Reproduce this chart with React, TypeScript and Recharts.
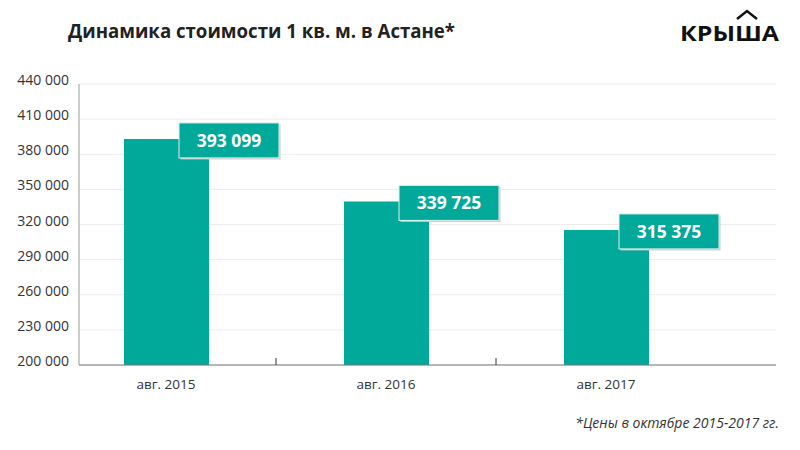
import React from 'react';
import { BarChart, Bar, XAxis, YAxis, CartesianGrid, LabelList } from 'recharts';

const periods = ['авг. 2015', 'авг. 2016', 'авг. 2017'];
const pricePerSqm = [393099, 339725, 315375];
const yTicks = [200000, 230000, 260000, 290000, 320000, 350000, 380000, 410000, 440000];

const data = periods.map((period, i) => ({ period, price: pricePerSqm[i] }));

const TEAL = '#00a99a';
const FONT = '"Open Sans", sans-serif';

const fmt = (v: number) => String(v).replace(/\B(?=(\d{3})+(?!\d))/g, ' ');

const YTick = (props: any) => {
  const { x, y, payload } = props;
  return (
    <text x={x} y={y + 1} textAnchor="end" fontSize={14} fill="#333" fontFamily={FONT}>
      {fmt(payload.value)}
    </text>
  );
};

const XTick = (props: any) => {
  const { x, y, payload, index } = props;
  const half = payload.offset || 0;
  return (
    <g>
      {index < periods.length - 1 && (
        <line x1={x + half} x2={x + half} y1={y} y2={y - 7} stroke="#333" strokeWidth={1} />
      )}
      <text x={x} y={y + 24} textAnchor="middle" fontSize={13.5} fill="#333" fontFamily={FONT}>
        {payload.value}
      </text>
    </g>
  );
};

const ValueBox = (props: any) => {
  const { x, y, width, value } = props;
  const bx = x + width - 30;
  const by = y - 16;
  return (
    <g>
      <rect x={bx + 1.5} y={by + 1.5} width={100} height={35} fill="#c8c8c8" />
      <rect x={bx} y={by} width={100} height={35} fill={TEAL} stroke="#dff1ee" strokeWidth={1} />
      <text
        x={bx + 50}
        y={by + 24}
        textAnchor="middle"
        fontSize={17.5}
        fontWeight={700}
        fill="#fff"
        fontFamily={FONT}
      >
        {fmt(value)}
      </text>
    </g>
  );
};

export default function App() {
  return (
    <div style={{ position: 'absolute', left: 0, top: 0, width: 800, height: 450, background: '#fff' }}>
      <svg width={800} height={450} style={{ position: 'absolute', left: 0, top: 0 }}>
        <text x={68} y={38} fontSize={19} fontWeight={700} fill="#222" fontFamily={FONT} textLength={387} lengthAdjust="spacingAndGlyphs">
          Динамика стоимости 1 кв. м. в Астане*
        </text>
        <text x={680} y={41} fontSize={22} fontWeight={700} fill="#111" fontFamily={FONT} textLength={99} lengthAdjust="spacingAndGlyphs">
          КРЫША
        </text>
        <polyline points="737,19 747,11 757,19" fill="none" stroke="#111" strokeWidth={2.5} />
        <text x={779} y={428} textAnchor="end" fontSize={14} fontStyle="italic" fill="#333" fontFamily={FONT}>
          *Цены в октябре 2015-2017 гг.
        </text>
      </svg>
      <div style={{ position: 'absolute', left: 0, top: 0 }}>
        <BarChart width={800} height={450} data={data} margin={{ top: 84, right: 24, bottom: 0, left: 9 }}>
          <CartesianGrid vertical={false} stroke="#ececec" />
          <XAxis
            dataKey="period"
            stroke="#777"
            tickLine={false}
            tickSize={0}
            tickMargin={0}
            padding={{ left: -23, right: 60 }}
            tick={<XTick />}
            height={85}
          />
          <YAxis
            domain={[200000, 440000]}
            ticks={yTicks}
            width={70}
            stroke="#999"
            tickLine={false}
            tickSize={0}
            tickMargin={10}
            tick={<YTick />}
            interval={0}
          />
          <Bar dataKey="price" fill={TEAL} barSize={85} isAnimationActive={false}>
            <LabelList dataKey="price" content={<ValueBox />} />
          </Bar>
        </BarChart>
      </div>
    </div>
  );
}
